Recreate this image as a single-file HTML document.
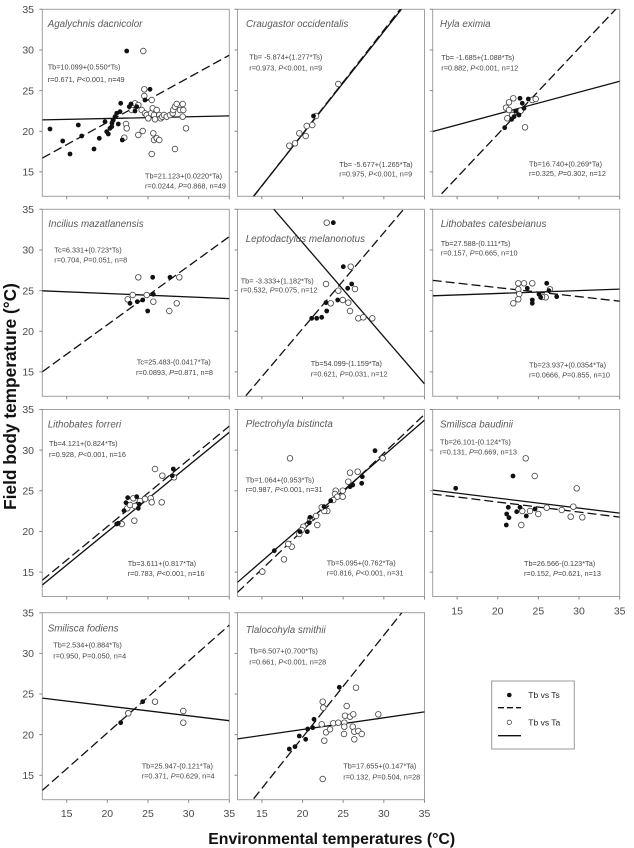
<!DOCTYPE html>
<html><head><meta charset="utf-8"><style>
html,body{margin:0;padding:0;background:#fff;}
svg{display:block;}
.t{font-family:"Liberation Sans",Arial,sans-serif;}
.ti{font-size:9.8px;font-style:italic;fill:#5a5a5a;}
.eq{font-size:7.3px;fill:#444;}
.tk{font-size:10.5px;fill:#4a4a4a;}
</style></head><body>
<svg width="634" height="848" viewBox="0 0 634 848" xmlns="http://www.w3.org/2000/svg">
<defs>
<clipPath id="cp"><rect x="0" y="0" width="187" height="187"/></clipPath>
<g id="fr">
<rect x="0" y="0" width="187" height="187" fill="none" stroke="#a0a0a0" stroke-width="1"/>
<path d="M-3 0H0M-3 40.65H0M-3 81.3H0M-3 121.95H0M-3 162.6H0M24.39 187V190M65.04 187V190M105.69 187V190M146.34 187V190M186.99 187V190" stroke="#888" stroke-width="1"/>
</g>
<circle id="d" cx="0" cy="0" r="2.4" fill="#111"/>
<circle id="o" cx="0" cy="0" r="2.8" fill="#fff" stroke="#444" stroke-width="0.8"/>
</defs>
<rect width="634" height="848" fill="#fff"/>

<!-- frames -->
<use href="#fr" x="42.3" y="9.3"/>
<use href="#fr" x="237.5" y="9.3"/>
<use href="#fr" x="432.7" y="9.3"/>
<use href="#fr" x="42.3" y="209.3"/>
<use href="#fr" x="237.5" y="209.3"/>
<use href="#fr" x="432.7" y="209.3"/>
<use href="#fr" x="42.3" y="409.5"/>
<use href="#fr" x="237.5" y="409.5"/>
<use href="#fr" x="432.7" y="409.5"/>
<use href="#fr" x="42.3" y="612.7"/>
<use href="#fr" x="237.5" y="612.7"/>

<!-- regression lines -->
<g fill="none" stroke="#111" stroke-width="1.3">
<g transform="translate(42.3,9.3)" clip-path="url(#cp)">
<line x1="0" y1="148.8" x2="187" y2="45.9" stroke-dasharray="9 4"/>
<line x1="0" y1="110.6" x2="187" y2="106.6"/>
</g>
<g transform="translate(237.5,9.3)" clip-path="url(#cp)">
<line x1="0" y1="207.7" x2="187" y2="-31.1" stroke-dasharray="9 4"/>
<line x1="0" y1="207.3" x2="187" y2="-29.3"/>
</g>
<g transform="translate(432.7,9.3)" clip-path="url(#cp)">
<line x1="0" y1="193.9" x2="187" y2="-4.3" stroke-dasharray="9 4"/>
<line x1="0" y1="122.2" x2="187" y2="71.9"/>
</g>
<g transform="translate(42.3,209.3)" clip-path="url(#cp)">
<line x1="0" y1="162.5" x2="187" y2="27.3" stroke-dasharray="9 4"/>
<line x1="0" y1="81.5" x2="187" y2="89.3"/>
</g>
<g transform="translate(237.5,209.3)" clip-path="url(#cp)">
<line x1="0" y1="196.3" x2="187" y2="-24.7" stroke-dasharray="9 4"/>
<line x1="0" y1="-42.2" x2="187" y2="174.6"/>
</g>
<g transform="translate(432.7,209.3)" clip-path="url(#cp)">
<line x1="0" y1="71.1" x2="187" y2="91.9" stroke-dasharray="9 4"/>
<line x1="0" y1="86.5" x2="187" y2="79.8"/>
</g>
<g transform="translate(42.3,409.5)" clip-path="url(#cp)">
<line x1="0" y1="170.7" x2="187" y2="16.6" stroke-dasharray="9 4"/>
<line x1="0" y1="175.5" x2="187" y2="22.8"/>
</g>
<g transform="translate(237.5,409.5)" clip-path="url(#cp)">
<line x1="0" y1="182.9" x2="187" y2="4.9" stroke-dasharray="9 4"/>
<line x1="0" y1="172.8" x2="187" y2="10.6"/>
</g>
<g transform="translate(432.7,409.5)" clip-path="url(#cp)">
<line x1="0" y1="84.5" x2="187" y2="107.6" stroke-dasharray="9 4"/>
<line x1="0" y1="80.6" x2="187" y2="103.6"/>
</g>
<g transform="translate(42.3,612.7)" clip-path="url(#cp)">
<line x1="0" y1="177.7" x2="187" y2="12.4" stroke-dasharray="9 4"/>
<line x1="0" y1="85.4" x2="187" y2="108.0"/>
</g>
<g transform="translate(237.5,612.7)" clip-path="url(#cp)">
<line x1="0" y1="206.3" x2="187" y2="-28.5" stroke-dasharray="9 4"/>
<line x1="0" y1="126.2" x2="187" y2="99.2"/>
</g>
</g>

<!-- Panel 1 points -->
<use href="#o" x="143.3" y="51"/><use href="#o" x="144.3" y="89.3"/><use href="#o" x="144.3" y="96"/>
<use href="#o" x="126" y="124"/><use href="#o" x="126.7" y="128.3"/><use href="#o" x="124.3" y="137.7"/>
<use href="#o" x="138.3" y="135"/><use href="#o" x="142.7" y="131"/><use href="#o" x="151.7" y="154"/>
<use href="#o" x="153.3" y="133.3"/><use href="#o" x="154" y="140"/><use href="#o" x="156.7" y="138.3"/>
<use href="#o" x="159.3" y="140"/><use href="#o" x="175" y="149"/><use href="#o" x="186" y="128.3"/>
<use href="#o" x="131.7" y="110"/><use href="#o" x="135" y="103.3"/><use href="#o" x="138.3" y="105"/>
<use href="#o" x="141.7" y="110"/><use href="#o" x="145" y="113.3"/><use href="#o" x="146.7" y="115"/>
<use href="#o" x="148.3" y="118.3"/><use href="#o" x="151" y="113.3"/><use href="#o" x="151.7" y="100"/>
<use href="#o" x="152.7" y="108.3"/><use href="#o" x="154" y="115"/><use href="#o" x="155" y="119.3"/>
<use href="#o" x="156.7" y="110"/><use href="#o" x="159.3" y="115"/><use href="#o" x="160.7" y="118.3"/>
<use href="#o" x="162.3" y="116.7"/><use href="#o" x="164" y="115"/><use href="#o" x="166.7" y="116.7"/>
<use href="#o" x="170" y="115"/><use href="#o" x="172.7" y="113.3"/><use href="#o" x="173.3" y="110"/>
<use href="#o" x="175" y="106.7"/><use href="#o" x="176.7" y="104"/><use href="#o" x="180" y="110"/>
<use href="#o" x="182.7" y="104"/><use href="#o" x="183.3" y="110"/><use href="#o" x="182.7" y="116.7"/>
<use href="#d" x="50" y="129"/><use href="#d" x="62.7" y="141"/><use href="#d" x="70" y="154"/>
<use href="#d" x="78.3" y="125"/><use href="#d" x="81.7" y="136"/><use href="#d" x="94" y="149"/>
<use href="#d" x="99.3" y="138.3"/><use href="#d" x="105" y="121.7"/><use href="#d" x="106.7" y="131.7"/>
<use href="#d" x="108.3" y="134"/><use href="#d" x="110" y="128.3"/><use href="#d" x="111.7" y="126.7"/>
<use href="#d" x="113.3" y="120"/><use href="#d" x="115" y="116.7"/><use href="#d" x="116.7" y="113.3"/>
<use href="#d" x="120" y="111.7"/><use href="#d" x="120.7" y="103.3"/><use href="#d" x="122.3" y="140"/>
<use href="#d" x="118.3" y="124"/><use href="#d" x="126.7" y="51"/><use href="#d" x="129.3" y="106.7"/>
<use href="#d" x="131" y="104"/><use href="#d" x="135" y="111"/><use href="#d" x="136.7" y="106.7"/>
<use href="#d" x="145" y="100"/><use href="#d" x="150" y="89.3"/><use href="#d" x="112" y="123"/>

<!-- Panel 2 points -->
<use href="#o" x="338.3" y="84"/><use href="#o" x="316" y="116"/><use href="#d" x="313.5" y="116"/>
<use href="#o" x="312.3" y="125"/><use href="#o" x="306.7" y="126"/><use href="#o" x="305.7" y="136"/>
<use href="#o" x="299.3" y="133.3"/><use href="#o" x="295" y="143.3"/><use href="#o" x="289.3" y="145.7"/>

<!-- Panel 3 points -->
<use href="#o" x="513.3" y="98.3"/><use href="#o" x="509" y="102.3"/><use href="#o" x="506" y="107.7"/>
<use href="#o" x="509" y="110"/><use href="#o" x="512.3" y="115"/><use href="#o" x="507.3" y="118.3"/>
<use href="#o" x="520.7" y="110.7"/><use href="#o" x="525" y="127.3"/><use href="#o" x="532.3" y="100"/>
<use href="#o" x="535.7" y="99"/>
<use href="#d" x="504.7" y="127.7"/><use href="#d" x="511.7" y="119.3"/><use href="#d" x="514" y="116.7"/>
<use href="#d" x="515.7" y="111"/><use href="#d" x="520" y="98.3"/><use href="#d" x="522.3" y="103.3"/>
<use href="#d" x="524" y="108.3"/><use href="#d" x="519" y="115"/><use href="#d" x="528.3" y="99"/>

<!-- Panel 4 points -->
<use href="#o" x="138.3" y="277.3"/><use href="#o" x="179.3" y="277.3"/><use href="#o" x="132.7" y="295"/>
<use href="#o" x="127.7" y="299.3"/><use href="#o" x="146.7" y="295"/><use href="#o" x="153.3" y="301.7"/>
<use href="#o" x="169.3" y="311"/><use href="#o" x="176.7" y="303.3"/>
<use href="#d" x="152.7" y="277.3"/><use href="#d" x="170" y="277.3"/><use href="#d" x="153.3" y="294.3"/>
<use href="#d" x="130" y="303.3"/><use href="#d" x="137.3" y="301.7"/><use href="#d" x="142.7" y="300"/>
<use href="#d" x="147.7" y="311"/>

<!-- Panel 5 points -->
<use href="#o" x="326.7" y="222.7"/><use href="#o" x="350.7" y="266.7"/><use href="#o" x="326" y="284"/>
<use href="#o" x="338.3" y="290.7"/><use href="#o" x="355" y="289"/><use href="#o" x="342.7" y="300"/>
<use href="#o" x="348.3" y="302.7"/><use href="#o" x="330.7" y="303.3"/><use href="#o" x="350" y="311"/>
<use href="#o" x="358.3" y="318.3"/><use href="#o" x="363.3" y="317.3"/><use href="#o" x="372.3" y="318.3"/>
<use href="#d" x="333.3" y="222.7"/><use href="#d" x="343.3" y="266.7"/><use href="#d" x="351.7" y="284"/>
<use href="#d" x="347.7" y="288.3"/><use href="#d" x="337.7" y="300"/><use href="#d" x="326" y="302.7"/>
<use href="#d" x="326.7" y="311"/><use href="#d" x="321.7" y="317.3"/><use href="#d" x="316.7" y="318.3"/>
<use href="#d" x="311.7" y="318.3"/>

<!-- Panel 6 points -->
<use href="#o" x="518.3" y="283.3"/><use href="#o" x="524" y="283.3"/><use href="#o" x="532.3" y="283.3"/>
<use href="#o" x="518.3" y="289.3"/><use href="#o" x="519.3" y="294"/><use href="#o" x="518.3" y="299.3"/>
<use href="#o" x="513.3" y="303.3"/><use href="#o" x="550" y="289.3"/><use href="#o" x="545.7" y="297.3"/>
<use href="#o" x="542" y="297"/>
<use href="#d" x="527.3" y="288.3"/><use href="#d" x="546.7" y="283.3"/><use href="#d" x="549" y="290.7"/>
<use href="#d" x="539" y="294.3"/><use href="#d" x="540.7" y="297.3"/><use href="#d" x="532.3" y="300"/>
<use href="#d" x="532.3" y="303.3"/><use href="#d" x="556.7" y="296.7"/>

<!-- Panel 7 points -->
<use href="#o" x="155" y="469"/><use href="#o" x="162.3" y="475.7"/><use href="#o" x="174" y="477.3"/>
<use href="#o" x="133.3" y="498.3"/><use href="#o" x="145" y="499"/><use href="#o" x="150.7" y="498.3"/>
<use href="#o" x="151.7" y="502.3"/><use href="#o" x="161.7" y="502.3"/><use href="#o" x="127.3" y="508.3"/>
<use href="#o" x="130" y="505"/><use href="#o" x="135" y="506"/><use href="#o" x="134.3" y="520.7"/>
<use href="#o" x="121.7" y="524"/><use href="#o" x="140" y="501"/>
<use href="#d" x="173.3" y="469"/><use href="#d" x="172.3" y="475.7"/><use href="#d" x="127.7" y="497.7"/>
<use href="#d" x="126" y="502.7"/><use href="#d" x="136.7" y="496.7"/><use href="#d" x="139.3" y="504.3"/>
<use href="#d" x="138.3" y="508.3"/><use href="#d" x="124" y="510.7"/><use href="#d" x="116.7" y="524"/>
<use href="#d" x="118.3" y="523.3"/>

<!-- Panel 8 points -->
<use href="#o" x="290" y="458.3"/><use href="#o" x="382.7" y="458.3"/><use href="#o" x="357.7" y="471.7"/>
<use href="#o" x="350" y="472.7"/><use href="#o" x="348.3" y="481.7"/><use href="#o" x="335.7" y="490.7"/>
<use href="#o" x="335" y="494"/><use href="#o" x="337.3" y="496.7"/><use href="#o" x="342.7" y="490.7"/>
<use href="#o" x="342.7" y="496.7"/><use href="#o" x="333.3" y="500"/><use href="#o" x="327.3" y="511"/>
<use href="#o" x="324.3" y="511"/><use href="#o" x="321.7" y="507.3"/><use href="#o" x="316" y="516"/>
<use href="#o" x="317.3" y="525"/><use href="#o" x="310" y="519.3"/><use href="#o" x="303.3" y="526.7"/>
<use href="#o" x="301.7" y="530"/><use href="#o" x="299.3" y="534"/><use href="#o" x="291.7" y="546.7"/>
<use href="#o" x="288.3" y="544"/><use href="#o" x="284" y="559.3"/><use href="#o" x="262.3" y="571.7"/>
<use href="#d" x="375" y="450.7"/><use href="#d" x="362.3" y="476.7"/><use href="#d" x="361.7" y="483.3"/>
<use href="#d" x="352.7" y="485"/><use href="#d" x="350" y="486.7"/><use href="#d" x="330.7" y="500.7"/>
<use href="#d" x="324" y="506.7"/><use href="#d" x="310" y="517.3"/><use href="#d" x="309.3" y="522.7"/>
<use href="#d" x="307.3" y="531.7"/><use href="#d" x="300" y="531.7"/><use href="#d" x="274.3" y="550.7"/>

<!-- Panel 9 points -->
<use href="#o" x="525.7" y="458.3"/><use href="#o" x="534.7" y="476"/><use href="#o" x="576.7" y="488.3"/>
<use href="#o" x="546.7" y="507.7"/><use href="#o" x="561.7" y="510"/><use href="#o" x="573.3" y="506.7"/>
<use href="#o" x="522.3" y="511"/><use href="#o" x="530" y="511"/><use href="#o" x="538.3" y="514"/>
<use href="#o" x="570.7" y="516.7"/><use href="#o" x="582.3" y="517.3"/><use href="#o" x="521.3" y="525"/>
<use href="#d" x="455.7" y="488.3"/><use href="#d" x="513" y="476"/><use href="#d" x="508.3" y="507.3"/>
<use href="#d" x="520" y="507.3"/><use href="#d" x="506.7" y="514"/><use href="#d" x="509" y="517.7"/>
<use href="#d" x="516.7" y="511.7"/><use href="#d" x="526.3" y="516"/><use href="#d" x="535" y="509"/>
<use href="#d" x="506.3" y="525"/>

<!-- Panel 10 points -->
<use href="#d" x="120.7" y="722.7"/><use href="#d" x="127.7" y="712.7"/><use href="#d" x="142.7" y="701.7"/>
<use href="#o" x="128.3" y="713.3"/><use href="#o" x="155" y="701.7"/><use href="#o" x="183.3" y="711"/>
<use href="#o" x="183.3" y="722.7"/>

<!-- Panel 11 points -->
<use href="#o" x="356" y="687.7"/><use href="#o" x="322.7" y="701.7"/><use href="#o" x="323.3" y="707.7"/>
<use href="#o" x="346.7" y="706"/><use href="#o" x="345" y="715.7"/><use href="#o" x="350" y="716.7"/>
<use href="#o" x="353.3" y="714.3"/><use href="#o" x="378.3" y="714.3"/><use href="#o" x="321.7" y="724.3"/>
<use href="#o" x="333.3" y="723.3"/><use href="#o" x="338.3" y="722.7"/><use href="#o" x="344.3" y="722.7"/>
<use href="#o" x="344.3" y="726.7"/><use href="#o" x="352.7" y="726.7"/><use href="#o" x="354.3" y="731.7"/>
<use href="#o" x="358.3" y="731"/><use href="#o" x="361.7" y="734"/><use href="#o" x="344" y="734"/>
<use href="#o" x="326" y="732.3"/><use href="#o" x="324.3" y="740.7"/><use href="#o" x="330" y="729.3"/>
<use href="#o" x="354.3" y="739.3"/><use href="#o" x="322.7" y="779"/>
<use href="#d" x="339.3" y="687.3"/><use href="#d" x="314" y="719.3"/><use href="#d" x="312.7" y="727.7"/>
<use href="#d" x="307.7" y="729"/><use href="#d" x="305.7" y="739.3"/><use href="#d" x="299.3" y="736"/>
<use href="#d" x="295" y="746.7"/><use href="#d" x="289.3" y="749"/>

<!-- Titles -->
<g class="t ti">
<text x="47.7" y="27">Agalychnis dacnicolor</text>
<text x="246" y="27">Craugastor occidentalis</text>
<text x="440" y="27">Hyla eximia</text>
<text x="48.3" y="227">Incilius mazatlanensis</text>
<text x="245.7" y="242">Leptodactylus melanonotus</text>
<text x="440.7" y="227">Lithobates catesbeianus</text>
<text x="47.7" y="427.5">Lithobates forreri</text>
<text x="245.7" y="427">Plectrohyla bistincta</text>
<text x="440" y="427.5">Smilisca baudinii</text>
<text x="47.7" y="631.3">Smilisca fodiens</text>
<text x="245.7" y="633">Tlalocohyla smithii</text>
</g>

<!-- Equations -->
<g class="t eq">
<text x="47.7" y="69.5">Tb=10.099+(0.550*Ts)</text>
<text x="47.7" y="82">r=0.671, <tspan font-style="italic">P</tspan>&lt;0.001, n=49</text>
<text x="145" y="178.7">Tb=21.123+(0.0220*Ta)</text>
<text x="145" y="188.5">r=0.0244, <tspan font-style="italic">P</tspan>=0.868, n=49</text>

<text x="249.3" y="59.5">Tb= -5.874+(1.277*Ts)</text>
<text x="249.3" y="70.4">r=0.973, <tspan font-style="italic">P</tspan>&lt;0.001, n=9</text>
<text x="339.3" y="167">Tb= -5.677+(1.265*Ta)</text>
<text x="339.3" y="176.7">r=0.975, <tspan font-style="italic">P</tspan>&lt;0.001, n=9</text>

<text x="441.3" y="60">Tb= -1.685+(1.088*Ts)</text>
<text x="441.3" y="70.4">r=0.882, <tspan font-style="italic">P</tspan>&lt;0.001, n=12</text>
<text x="529" y="166.7">Tb=16.740+(0.269*Ta)</text>
<text x="529" y="176">r=0.325, <tspan font-style="italic">P</tspan>=0.302, n=12</text>

<text x="54.3" y="252.7">Tc=6.331+(0.723*Ts)</text>
<text x="54.3" y="262.7">r=0.704, <tspan font-style="italic">P</tspan>=0.051, n=8</text>
<text x="136.7" y="364.4">Tc=25.483-(0.0417*Ta)</text>
<text x="136" y="375">r=0.0893, <tspan font-style="italic">P</tspan>=0.871, n=8</text>

<text x="240.7" y="283.7">Tb= -3.333+(1.182*Ts)</text>
<text x="240.7" y="292.7">r=0.532, <tspan font-style="italic">P</tspan>=0.075, n=12</text>
<text x="310.7" y="366">Tb=54.099-(1.159*Ta)</text>
<text x="310.7" y="376.7">r=0.621, <tspan font-style="italic">P</tspan>=0.031, n=12</text>

<text x="440.7" y="246">Tb=27.588-(0.111*Ts)</text>
<text x="440.7" y="255.4">r=0.157, <tspan font-style="italic">P</tspan>=0.665, n=10</text>
<text x="529" y="367.7">Tb=23.937+(0.0354*Ta)</text>
<text x="529" y="377.7">r=0.0666, <tspan font-style="italic">P</tspan>=0.855, n=10</text>

<text x="49" y="446">Tb=4.121+(0.824*Ts)</text>
<text x="49" y="457">r=0.928, <tspan font-style="italic">P</tspan>&lt;0.001, n=16</text>
<text x="127.7" y="566">Tb=3.611+(0.817*Ta)</text>
<text x="127.7" y="576">r=0.783, <tspan font-style="italic">P</tspan>&lt;0.001, n=16</text>

<text x="245.7" y="482.7">Tb=1.064+(0.953*Ts)</text>
<text x="245.7" y="492">r=0.987, <tspan font-style="italic">P</tspan>&lt;0.001, n=31</text>
<text x="326.7" y="565.4">Tb=5.095+(0.762*Ta)</text>
<text x="326.7" y="575.4">r=0.816, <tspan font-style="italic">P</tspan>&lt;0.001, n=31</text>

<text x="440" y="444.4">Tb=26.101-(0.124*Ts)</text>
<text x="440" y="454.4">r=0.131, <tspan font-style="italic">P</tspan>=0.669, n=13</text>
<text x="524" y="566">Tb=26.566-(0.123*Ta)</text>
<text x="524" y="576">r=0.152, <tspan font-style="italic">P</tspan>=0.621, n=13</text>

<text x="53.3" y="647.7">Tb=2.534+(0.884*Ts)</text>
<text x="53.3" y="658.7">r=0.950, P=0.050, n=4</text>
<text x="141.7" y="768.7">Tb=25.947-(0.121*Ta)</text>
<text x="141.7" y="778.4">r=0.371, <tspan font-style="italic">P</tspan>=0.629, n=4</text>

<text x="249.3" y="653.4">Tb=6.507+(0.700*Ts)</text>
<text x="249.3" y="664.4">r=0.661, <tspan font-style="italic">P</tspan>&lt;0.001, n=28</text>
<text x="343.3" y="768.7">Tb=17.655+(0.147*Ta)</text>
<text x="343.3" y="779.4">r=0.132, <tspan font-style="italic">P</tspan>=0.504, n=28</text>
</g>

<!-- Y tick labels -->
<g class="t tk" text-anchor="end">
<text x="34" y="13">35</text><text x="34" y="53.65">30</text><text x="34" y="94.3">25</text><text x="34" y="134.95">20</text><text x="34" y="175.6">15</text>
<text x="34" y="213">35</text><text x="34" y="253.65">30</text><text x="34" y="294.3">25</text><text x="34" y="334.95">20</text><text x="34" y="375.6">15</text>
<text x="34" y="413.2">35</text><text x="34" y="453.85">30</text><text x="34" y="494.5">25</text><text x="34" y="535.15">20</text><text x="34" y="575.8">15</text>
<text x="34" y="616.4">35</text><text x="34" y="657.05">30</text><text x="34" y="697.7">25</text><text x="34" y="738.35">20</text><text x="34" y="779">15</text>
</g>
<!-- X tick labels -->
<g class="t tk" text-anchor="middle">
<text x="457.1" y="614.5">15</text><text x="497.7" y="614.5">20</text><text x="538.4" y="614.5">25</text><text x="579" y="614.5">30</text><text x="619.7" y="614.5">35</text>
<text x="66.7" y="817">15</text><text x="107.3" y="817">20</text><text x="148" y="817">25</text><text x="188.6" y="817">30</text><text x="229.3" y="817">35</text>
<text x="261.9" y="817">15</text><text x="302.5" y="817">20</text><text x="343.2" y="817">25</text><text x="383.8" y="817">30</text><text x="424.5" y="817">35</text>
</g>

<!-- Axis titles -->
<text class="t" transform="translate(16,396.5) rotate(-90)" text-anchor="middle" font-size="17.3" font-weight="bold" fill="#111">Field body temperature (°C)</text>
<text class="t" x="331.7" y="844" text-anchor="middle" font-size="15.8" font-weight="bold" fill="#111">Environmental temperatures (°C)</text>

<!-- Legend -->
<rect x="491.7" y="681" width="82.6" height="68" fill="#fff" stroke="#999" stroke-width="1"/>
<circle cx="509.3" cy="695" r="2.3" fill="#111"/>
<line x1="498" y1="707.7" x2="521" y2="707.7" stroke="#111" stroke-width="1.3" stroke-dasharray="6 3"/>
<circle cx="509.3" cy="722.3" r="2.2" fill="#fff" stroke="#333" stroke-width="0.7"/>
<line x1="498" y1="735.7" x2="521" y2="735.7" stroke="#111" stroke-width="1.3"/>
<g class="t" font-size="8.5" fill="#222">
<text x="528.3" y="698">Tb vs Ts</text>
<text x="528.3" y="725.3">Tb vs Ta</text>
</g>
</svg>
</body></html>
